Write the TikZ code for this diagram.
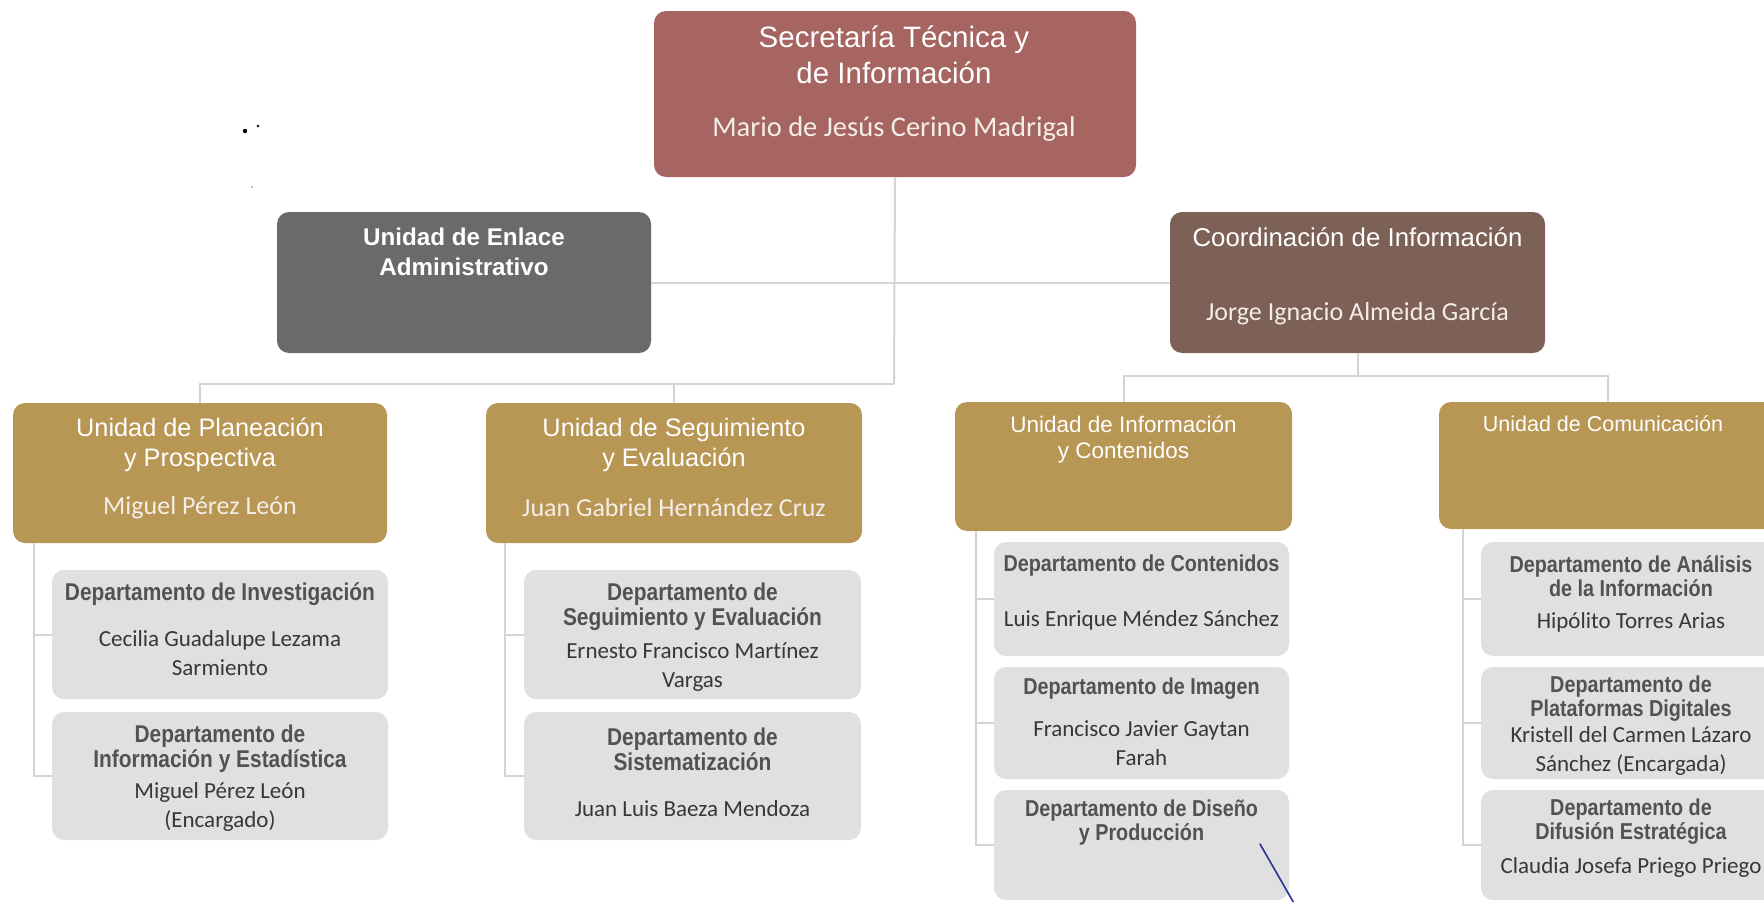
\documentclass[tikz,border=0pt]{standalone}
\usepackage{fontspec}
\setmainfont{Liberation Sans}
\newfontfamily\narrowfont[FakeStretch=0.86]{Liberation Sans}
\newfontfamily\califont[Ligatures=NoCommon]{Carlito}
\definecolor{secred}{RGB}{166,101,96}
\definecolor{enlgray}{RGB}{106,106,106}
\definecolor{coobrown}{RGB}{125,97,86}
\definecolor{gold}{RGB}{184,150,84}
\definecolor{deptgray}{RGB}{224,224,224}
\definecolor{linegray}{RGB}{212,212,212}
\definecolor{depttitle}{RGB}{82,82,82}
\definecolor{deptname}{RGB}{55,55,55}
\definecolor{lightname}{RGB}{244,238,232}
\definecolor{penblue}{RGB}{40,50,150}
\begin{document}
\begin{tikzpicture}[x=1pt,y=-1pt,
  unitbox/.style={rounded corners=12pt, inner sep=0pt},
  deptbox/.style={fill=deptgray, rounded corners=12pt, inner sep=0pt},
  link/.style={draw=linegray, line width=2pt},
  toptitle/.style={text=white, align=center, inner sep=0pt, font={\fontsize{29.5}{36}\selectfont}},
  topname/.style={text=lightname, align=center, inner sep=0pt, font={\califont\fontsize{28.5}{30}\selectfont}},
  l2title/.style={text=white, align=center, inner sep=0pt, font={\fontsize{25.8}{30}\selectfont}},
  l2bold/.style={text=white, align=center, inner sep=0pt, font={\bfseries\fontsize{24.2}{30}\selectfont}},
  l3title/.style={text=white, align=center, inner sep=0pt, font={\fontsize{25.3}{30}\selectfont}},
  l3small/.style={text=white, align=center, inner sep=0pt, font={\fontsize{22.5}{26}\selectfont}},
  l3name/.style={text=lightname, align=center, inner sep=0pt, font={\califont\fontsize{26}{28}\selectfont}},
  dtitle/.style={text=depttitle, align=center, inner sep=0pt, font={\narrowfont\bfseries\fontsize{24.3}{25}\selectfont}},
  dtitles/.style={text=depttitle, align=center, inner sep=0pt, font={\narrowfont\bfseries\fontsize{23}{24}\selectfont}},
  dname/.style={text=deptname, align=center, inner sep=0pt, font={\califont\fontsize{23}{29}\selectfont}}
]
\useasboundingbox (0,0) rectangle (1764,902);
\clip (0,0) rectangle (1764,902);
\fill[white] (0,0) rectangle (1764,902);

% ---------- boxes ----------
\node[unitbox, fill=secred, minimum width=482, minimum height=166] (sec) at (895,94) {};
\node[unitbox, fill=enlgray, minimum width=374, minimum height=141] (enl) at (464,282.5) {};
\node[unitbox, fill=coobrown, minimum width=375, minimum height=141] (coo) at (1357.5,282.5) {};
\node[unitbox, fill=gold, minimum width=374, minimum height=140] (pla) at (200,473) {};
\node[unitbox, fill=gold, minimum width=376, minimum height=140] (seg) at (674,473) {};
\node[unitbox, fill=gold, minimum width=337, minimum height=129] (inf) at (1123.5,466.5) {};
\node[unitbox, fill=gold, minimum width=350, minimum height=127] (com) at (1614,465.5) {};

\node[deptbox, minimum width=336, minimum height=129] (inv) at (220,634.5) {};
\node[deptbox, minimum width=336, minimum height=128] (est) at (220,776) {};
\node[deptbox, minimum width=337, minimum height=129] (dse) at (692.5,634.5) {};
\node[deptbox, minimum width=337, minimum height=128] (sis) at (692.5,776) {};
\node[deptbox, minimum width=295, minimum height=114] (con) at (1141.5,599) {};
\node[deptbox, minimum width=295, minimum height=112] (ima) at (1141.5,723) {};
\node[deptbox, minimum width=295, minimum height=110] (dis) at (1141.5,845) {};
\node[deptbox, minimum width=300, minimum height=114] (ana) at (1631,599) {};
\node[deptbox, minimum width=300, minimum height=112] (plt) at (1631,723) {};
\node[deptbox, minimum width=300, minimum height=110] (dif) at (1631,845) {};

% ---------- connectors ----------
\coordinate (j1) at (894,384);
\coordinate (j2) at (1357.5,376);
\draw[link] (sec.south) -- (j1);
\draw[link] (enl.east) -- (coo.west);
\draw[link] (pla.north) |- (j1);
\draw[link] (seg.north) -- (seg.north |- j1);
\draw[link] (coo.south) -- (j2);
\draw[link] (inf.north) |- (j2);
\coordinate (comtop) at (1608,402);
\draw[link] (comtop) |- (j2);

\coordinate (tpla) at (34,543);
\draw[link] (tpla) |- (est.west);
\draw[link] (tpla |- inv.west) -- (inv.west);
\coordinate (tseg) at (505,543);
\draw[link] (tseg) |- (sis.west);
\draw[link] (tseg |- dse.west) -- (dse.west);
\coordinate (tinf) at (976,531);
\draw[link] (tinf) |- (dis.west);
\draw[link] (tinf |- con.west) -- (con.west);
\draw[link] (tinf |- ima.west) -- (ima.west);
\coordinate (tcom) at (1463,529);
\draw[link] (tcom) |- (dif.west);
\draw[link] (tcom |- ana.west) -- (ana.west);
\draw[link] (tcom |- plt.west) -- (plt.west);

% ---------- texts ----------
\node[toptitle] (secT) at (894,55) {Secretaría Técnica y\\de Información};
\node[topname] (secN) at (894,129) {Mario de Jesús Cerino Madrigal};

\node[l2bold] (enlT) at (464,252) {Unidad de Enlace\\Administrativo};
\node[l2title] (cooT) at (1357.5,237) {Coordinación de Información};
\node[topname, font={\califont\fontsize{26}{28}\selectfont}] (cooN) at (1357.5,314) {Jorge Ignacio Almeida García};

\node[l3title] (plaT) at (200,445) {Unidad de Planeación\\y Prospectiva};
\node[l3name] (plaN) at (200,508) {Miguel Pérez León};
\node[l3title] (segT) at (674,445) {Unidad de Seguimiento\\y Evaluación};
\node[l3name] (segN) at (674,508) {Juan Gabriel Hernández Cruz};
\node[l3small] (infT) at (1123.5,440) {Unidad de Información\\y Contenidos};
\node[l3small, font={\fontsize{21.5}{26}\selectfont}] (comT) at (1603,424) {Unidad de Comunicación};

\node[dtitle] (invT) at (220,594) {Departamento de Investigación};
\node[dname] (invN) at (220,653.5) {Cecilia Guadalupe Lezama\\Sarmiento};
\node[dtitle] (estT) at (220,749) {Departamento de\\Información y Estadística};
\node[dname] (estN) at (220,806.5) {Miguel Pérez León\\(Encargado)};

\node[dtitle] (dseT) at (692.5,607) {Departamento de\\Seguimiento y Evaluación};
\node[dname] (dseN) at (692.5,667.5) {Ernesto Francisco Martínez\\Vargas};
\node[dtitle] (sisT) at (692.5,749) {Departamento de\\Sistematización};
\node[dname] (sisN) at (692.5,809) {Juan Luis Baeza Mendoza};

\node[dtitles] (conT) at (1141.5,566) {Departamento de Contenidos};
\node[dname] (conN) at (1141.5,620) {Luis Enrique Méndez Sánchez};
\node[dtitles] (imaT) at (1141.5,689) {Departamento de Imagen};
\node[dname] (imaN) at (1141.5,743) {Francisco Javier Gaytan\\Farah};
\node[dtitles] (disT) at (1141.5,823) {Departamento de Diseño\\y Producción};

\node[dtitles] (anaT) at (1631,576.5) {Departamento de Análisis\\de la Información};
\node[dname] (anaN) at (1631,622) {Hipólito Torres Arias};
\node[dtitles] (pltT) at (1631,699) {Departamento de\\Plataformas Digitales};
\node[dname] (pltN) at (1631,751) {Kristell del Carmen Lázaro\\Sánchez (Encargada)};
\node[dtitles] (difT) at (1631,822) {Departamento de\\Difusión Estratégica};
\node[dname] (difN) at (1631,867) {Claudia Josefa Priego Priego};

% ---------- scan marks ----------
\draw[penblue, line width=1.6pt, line cap=round] (1260,844) -- (1295,905);
\fill[black] (245,131) circle (2.2pt);
\fill[black] (258,126) circle (1.3pt);
\fill[black!40] (252,187) circle (1pt);
\end{tikzpicture}
\end{document}
